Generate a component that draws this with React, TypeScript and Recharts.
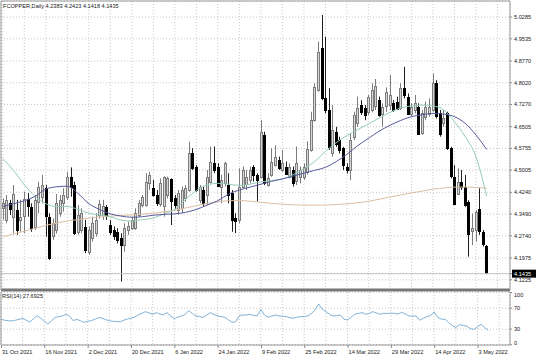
import React from 'react';
import { ComposedChart, Bar, Line, XAxis, YAxis, CartesianGrid, ReferenceLine } from 'recharts';

const opens = [
  4.369, 4.329, 4.386, 4.340, 4.363, 4.329, 4.340, 4.400, 4.372, 4.306,
  4.392, 4.409, 4.438, 4.340, 4.271, 4.294, 4.354, 4.386, 4.407, 4.478,
  4.449, 4.288, 4.294, 4.306, 4.219, 4.265, 4.283, 4.346, 4.346, 4.372,
  4.311, 4.294, 4.288, 4.265, 4.242, 4.294, 4.300, 4.300, 4.346, 4.380,
  4.380, 4.455, 4.438, 4.415, 4.386, 4.377, 4.415, 4.469, 4.403, 4.363,
  4.369, 4.403, 4.432, 4.558, 4.513, 4.398, 4.432, 4.415, 4.461, 4.526,
  4.513, 4.444, 4.455, 4.449, 4.421, 4.334, 4.329, 4.444, 4.455, 4.467,
  4.513, 4.484, 4.478, 4.622, 4.449, 4.484, 4.518, 4.536, 4.501, 4.513,
  4.478, 4.501, 4.461, 4.478, 4.478, 4.495, 4.570, 4.673, 4.777, 4.921,
  4.748, 4.708, 4.558, 4.633, 4.604, 4.576, 4.512, 4.501, 4.616, 4.662,
  4.725, 4.714, 4.702, 4.708, 4.720, 4.742, 4.696, 4.720, 4.725, 4.731,
  4.737, 4.714, 4.783, 4.754, 4.696, 4.708, 4.719, 4.627, 4.685, 4.696,
  4.708, 4.800, 4.696, 4.662, 4.696, 4.576, 4.478, 4.420, 4.461, 4.443,
  4.392, 4.288, 4.294, 4.365, 4.288, 4.2383,
];
const highs = [
  4.403, 4.415, 4.398, 4.449, 4.398, 4.398, 4.426, 4.421, 4.386, 4.415,
  4.461, 4.484, 4.449, 4.352, 4.334, 4.418, 4.415, 4.438, 4.495, 4.510,
  4.461, 4.380, 4.369, 4.329, 4.306, 4.340, 4.352, 4.398, 4.398, 4.380,
  4.329, 4.306, 4.300, 4.283, 4.317, 4.323, 4.340, 4.369, 4.398, 4.415,
  4.490, 4.495, 4.467, 4.432, 4.472, 4.480, 4.478, 4.472, 4.415, 4.432,
  4.444, 4.449, 4.599, 4.576, 4.518, 4.449, 4.444, 4.501, 4.582, 4.582,
  4.524, 4.484, 4.530, 4.490, 4.432, 4.352, 4.507, 4.513, 4.501, 4.513,
  4.518, 4.490, 4.673, 4.633, 4.490, 4.576, 4.587, 4.547, 4.570, 4.530,
  4.524, 4.513, 4.582, 4.513, 4.524, 4.600, 4.702, 4.800, 4.944, 5.036,
  4.961, 4.783, 4.725, 4.650, 4.616, 4.581, 4.524, 4.628, 4.702, 4.754,
  4.742, 4.725, 4.760, 4.800, 4.815, 4.754, 4.731, 4.786, 4.829, 4.742,
  4.754, 4.800, 4.857, 4.765, 4.731, 4.760, 4.731, 4.708, 4.737, 4.748,
  4.834, 4.811, 4.708, 4.708, 4.702, 4.581, 4.518, 4.507, 4.501, 4.484,
  4.397, 4.351, 4.363, 4.438, 4.294, 4.2423,
];
const lows = [
  4.329, 4.317, 4.346, 4.282, 4.277, 4.288, 4.282, 4.340, 4.288, 4.294,
  4.352, 4.386, 4.271, 4.191, 4.260, 4.282, 4.340, 4.357, 4.398, 4.409,
  4.277, 4.277, 4.283, 4.214, 4.208, 4.254, 4.271, 4.334, 4.329, 4.329,
  4.277, 4.260, 4.248, 4.116, 4.219, 4.277, 4.294, 4.294, 4.340, 4.372,
  4.375, 4.432, 4.409, 4.377, 4.375, 4.340, 4.403, 4.311, 4.365, 4.346,
  4.352, 4.392, 4.426, 4.501, 4.426, 4.386, 4.375, 4.380, 4.455, 4.490,
  4.444, 4.386, 4.444, 4.386, 4.288, 4.283, 4.317, 4.438, 4.432, 4.455,
  4.461, 4.392, 4.472, 4.449, 4.444, 4.478, 4.513, 4.501, 4.495, 4.484,
  4.472, 4.444, 4.449, 4.455, 4.467, 4.485, 4.564, 4.668, 4.771, 4.742,
  4.696, 4.570, 4.547, 4.581, 4.558, 4.501, 4.489, 4.466, 4.604, 4.650,
  4.691, 4.673, 4.691, 4.700, 4.708, 4.685, 4.650, 4.702, 4.708, 4.702,
  4.708, 4.708, 4.748, 4.691, 4.685, 4.696, 4.622, 4.622, 4.673, 4.685,
  4.702, 4.679, 4.616, 4.650, 4.570, 4.472, 4.380, 4.415, 4.432, 4.374,
  4.202, 4.242, 4.254, 4.277, 4.237, 4.1418,
];
const closes = [
  4.386, 4.398, 4.365, 4.418, 4.294, 4.340, 4.400, 4.375, 4.300, 4.398,
  4.444, 4.449, 4.340, 4.200, 4.317, 4.386, 4.398, 4.415, 4.476, 4.444,
  4.283, 4.346, 4.352, 4.225, 4.294, 4.317, 4.329, 4.384, 4.377, 4.340,
  4.288, 4.273, 4.260, 4.242, 4.300, 4.308, 4.329, 4.352, 4.386, 4.407,
  4.461, 4.484, 4.415, 4.386, 4.457, 4.476, 4.472, 4.392, 4.380, 4.421,
  4.432, 4.438, 4.558, 4.507, 4.432, 4.444, 4.386, 4.478, 4.530, 4.501,
  4.449, 4.467, 4.524, 4.415, 4.329, 4.323, 4.444, 4.501, 4.478, 4.501,
  4.484, 4.467, 4.633, 4.455, 4.472, 4.530, 4.547, 4.507, 4.524, 4.490,
  4.513, 4.455, 4.524, 4.501, 4.513, 4.575, 4.673, 4.788, 4.909, 4.748,
  4.708, 4.581, 4.639, 4.593, 4.570, 4.518, 4.501, 4.604, 4.691, 4.714,
  4.702, 4.691, 4.754, 4.777, 4.790, 4.691, 4.720, 4.770, 4.760, 4.708,
  4.714, 4.783, 4.760, 4.696, 4.719, 4.731, 4.627, 4.696, 4.719, 4.719,
  4.800, 4.685, 4.622, 4.679, 4.576, 4.478, 4.386, 4.461, 4.443, 4.380,
  4.282, 4.300, 4.357, 4.288, 4.248, 4.1435,
];

const rsi14 = [
  48.8, 47.0, 46.2, 45.6, 47.0, 48.8, 50.7, 47.0, 43.7, 50.0,
  55.8, 50.7, 45.0, 39.8, 46.0, 52.6, 54.0, 55.2, 58.4, 55.0,
  46.2, 48.8, 46.0, 43.0, 45.0, 46.2, 49.0, 52.0, 51.0, 48.0,
  46.2, 45.0, 44.5, 44.3, 47.0, 49.4, 51.0, 53.0, 57.1, 60.0,
  63.5, 61.0, 58.4, 61.6, 59.0, 57.7, 61.6, 55.0, 50.1, 53.0,
  55.2, 58.0, 65.4, 60.0, 55.2, 54.0, 52.6, 57.0, 61.6, 58.0,
  55.2, 54.0, 52.6, 48.0, 43.0, 44.0, 55.8, 57.0, 57.0, 58.4,
  56.0, 55.2, 67.9, 57.0, 52.6, 55.0, 57.1, 55.2, 55.0, 53.9,
  52.0, 50.7, 53.0, 53.9, 54.0, 55.2, 60.0, 66.7, 78.2, 68.0,
  63.5, 58.4, 55.2, 56.0, 57.1, 48.8, 47.5, 53.0, 58.4, 60.0,
  61.6, 58.4, 60.0, 63.5, 61.0, 58.4, 60.3, 60.0, 60.5, 60.3,
  59.0, 62.2, 59.0, 55.2, 55.0, 55.2, 46.9, 51.0, 53.9, 56.0,
  62.8, 52.6, 49.0, 49.0, 42.4, 37.0, 32.8, 38.6, 37.0, 36.0,
  31.0, 29.6, 34.7, 39.2, 32.8, 27.7,
];

// moving averages sampled every MA_STEP bars
const MA_STEP = 3;
const maFast = [
  4.540, 4.500, 4.450, 4.410, 4.385, 4.375, 4.375, 4.365, 4.352, 4.346,
  4.340, 4.328, 4.325, 4.330, 4.335, 4.350, 4.365, 4.400, 4.430, 4.450,
  4.455, 4.452, 4.448, 4.452, 4.460, 4.465, 4.470, 4.485, 4.505, 4.530,
  4.565, 4.595, 4.620, 4.640, 4.660, 4.680, 4.700, 4.715, 4.722, 4.725,
  4.722, 4.708, 4.668, 4.616, 4.547, 4.410,
];
const maMid = [
  4.375, 4.385, 4.395, 4.410, 4.435, 4.443, 4.445, 4.420, 4.385, 4.365,
  4.350, 4.342, 4.338, 4.340, 4.345, 4.348, 4.350, 4.355, 4.365, 4.380,
  4.395, 4.418, 4.432, 4.442, 4.452, 4.462, 4.470, 4.480, 4.490, 4.500,
  4.510, 4.530, 4.555, 4.585, 4.610, 4.635, 4.655, 4.672, 4.685, 4.692,
  4.696, 4.694, 4.685, 4.662, 4.622, 4.572,
];
const maSlow = [
  4.271, 4.280, 4.290, 4.300, 4.310, 4.318, 4.325, 4.330, 4.335, 4.339,
  4.342, 4.344, 4.346, 4.349, 4.352, 4.357, 4.362, 4.370, 4.378, 4.386,
  4.392, 4.395, 4.396, 4.393, 4.390, 4.386, 4.383, 4.381, 4.380, 4.380,
  4.380, 4.382, 4.384, 4.388, 4.393, 4.400, 4.408, 4.415, 4.422, 4.428,
  4.435, 4.439, 4.442, 4.442, 4.441, 4.438,
];

const dateLabels = [
  '31 Oct 2021', '16 Nov 2021', '2 Dec 2021', '20 Dec 2021', '6 Jan 2022', '24 Jan 2022',
  '9 Feb 2022', '25 Feb 2022', '14 Mar 2022', '29 Mar 2022', '14 Apr 2022', '3 May 2022',
];
const LABEL_EVERY = 12;
const GRID_EVERY = 6;
const PAD_BARS = 6;
const LAST_PRICE = 4.1435;
const priceTicks = [5.0285, 4.9535, 4.877, 4.802, 4.727, 4.6505, 4.5755, 4.5005, 4.424, 4.349, 4.274, 4.1975, LAST_PRICE, 4.1225];
const rsiTicks = [0, 30, 70, 100];
const TITLE = 'FCOPPER,Daily  4.2383 4.2423 4.1418 4.1435';
const RSI_TITLE = 'RSI(14) 27.6925';

const N = opens.length + PAD_BARS;
const rows = Array.from({ length: N }, (_, i) => {
  if (i >= opens.length) return { i };
  const onStep = i % MA_STEP === 0;
  return {
    i,
    open: opens[i],
    high: highs[i],
    low: lows[i],
    close: closes[i],
    range: [lows[i], highs[i]],
    fast: onStep ? maFast[i / MA_STEP] : null,
    mid: onStep ? maMid[i / MA_STEP] : null,
    slow: onStep ? maSlow[i / MA_STEP] : null,
    rsi: rsi14[i],
  };
});
const gridTicks = rows.filter((r) => r.i % GRID_EVERY === 0).map((r) => r.i);

const FONT = '"Liberation Sans", Arial, sans-serif';
const FS = 5.6;
const TXT = '#1a1a1a';

const Candle = (props: any) => {
  const { x, y, width, height, payload } = props;
  if (!payload || payload.open == null) return null;
  const { open, close, high, low } = payload;
  const top = Math.min(y, y + height);
  const h = Math.abs(height);
  const ratio = high - low > 0 ? h / (high - low) : 0;
  const yO = top + (high - open) * ratio;
  const yC = top + (high - close) * ratio;
  const bull = close >= open;
  const c = Math.round(x + width / 2);
  const bTop = Math.round(Math.min(yO, yC)) + 0.5;
  const bH = Math.max(1, Math.round(Math.abs(yC - yO)));
  return (
    <g>
      <line x1={c + 0.5} x2={c + 0.5} y1={top} y2={top + h} stroke={bull ? '#7c7c7c' : '#1e1e1e'} strokeWidth={1} />
      <rect x={c - 0.5} y={bTop} width={2} height={bH} fill={bull ? '#d6d6d6' : '#000000'} stroke={bull ? '#7c7c7c' : '#000000'} strokeWidth={1} />
    </g>
  );
};

const PriceTick = (props: any) => {
  const { x, y, payload } = props;
  const v = payload.value;
  const label = Number(v).toFixed(4);
  if (v === LAST_PRICE) {
    return (
      <g>
        <rect x={x - 2} y={y - 4} width={25} height={8} fill="#000" />
        <text x={x} y={y + 2} fill="#fff" fontSize={FS} fontFamily={FONT}>{label}</text>
      </g>
    );
  }
  return <text x={x} y={y + 2} fill={TXT} fontSize={FS} fontFamily={FONT}>{label}</text>;
};

const RsiTick = (props: any) => {
  const { x, y, payload } = props;
  const v = payload.value;
  const dy = v === 100 ? 4 : v === 0 ? 0 : 2;
  return <text x={x} y={y + dy} fill={TXT} fontSize={FS} fontFamily={FONT}>{v}</text>;
};

const DateTick = (props: any) => {
  const { x, y, payload } = props;
  const i = payload.value;
  if (i % LABEL_EVERY !== 0) return <g />;
  const label = dateLabels[i / LABEL_EVERY];
  if (!label) return <g />;
  return (
    <g>
      <line x1={x + 0.5} x2={x + 0.5} y1={y} y2={y + 3} stroke="#888" />
      <text x={x + 1} y={y + 9} fill={TXT} fontSize={FS} fontFamily={FONT}>{label}</text>
    </g>
  );
};

const EmptyTick = () => <g />;

export default function App() {
  return (
    <div style={{ position: 'absolute', left: 0, top: 0, width: 536, height: 357, background: '#fff' }}>
      <ComposedChart width={536} height={292} data={rows} margin={{ top: 0, right: 0, bottom: 0, left: 0 }} barCategoryGap={0}>
        <CartesianGrid stroke="#c8c8c8" strokeDasharray="1 2" />
        <XAxis dataKey="i" type="category" ticks={gridTicks} height={2} tick={<EmptyTick />} tickLine={false} axisLine={{ stroke: '#777', strokeWidth: 3 }} interval={0} />
        <XAxis xAxisId="top" dataKey="i" orientation="top" height={1} tick={false} tickLine={false} axisLine={{ stroke: '#999' }} />
        <YAxis yAxisId="left" orientation="left" width={1} tick={false} tickLine={false} axisLine={{ stroke: '#999' }} domain={[4.0871, 5.084]} />
        <YAxis
          orientation="right"
          width={26}
          domain={[4.0871, 5.084]}
          allowDataOverflow
          ticks={priceTicks}
          interval={0}
          tick={<PriceTick />}
          tickSize={2}
          tickMargin={2}
          tickLine={{ stroke: '#888' }}
          axisLine={{ stroke: '#999' }}
        />
        <ReferenceLine y={LAST_PRICE} stroke="#c4c4c4" />
        <Line dataKey="slow" type="monotone" stroke="#dcbea2" strokeWidth={1} dot={false} connectNulls isAnimationActive={false} />
        <Line dataKey="fast" type="monotone" stroke="#93ccb6" strokeWidth={1} dot={false} connectNulls isAnimationActive={false} />
        <Line dataKey="mid" type="monotone" stroke="#575a9c" strokeWidth={1} dot={false} connectNulls isAnimationActive={false} />
        <Bar dataKey="range" barSize={3} shape={(p: any) => <Candle {...p} />} isAnimationActive={false} />
      </ComposedChart>
      <ComposedChart width={536} height={65} data={rows} margin={{ top: 0, right: 0, bottom: 0, left: 0 }}>
        <CartesianGrid stroke="#c8c8c8" strokeDasharray="1 2" />
        <XAxis dataKey="i" type="category" ticks={gridTicks} interval={0} height={12} tick={<DateTick />} tickSize={0} tickMargin={0} tickLine={false} axisLine={{ stroke: '#999' }} />
        <YAxis yAxisId="left" orientation="left" width={1} tick={false} tickLine={false} axisLine={{ stroke: '#999' }} domain={[-0.4, 101.1]} />
        <YAxis
          orientation="right"
          width={26}
          domain={[-0.4, 101.1]}
          allowDataOverflow
          ticks={rsiTicks}
          interval={0}
          tick={<RsiTick />}
          tickSize={2}
          tickMargin={2}
          tickLine={{ stroke: '#888' }}
          axisLine={{ stroke: '#999' }}
        />
        <Line dataKey="rsi" type="linear" stroke="#7fb1d6" strokeWidth={1} dot={false} isAnimationActive={false} />
      </ComposedChart>
      <svg width={536} height={357} style={{ position: 'absolute', left: 0, top: 0, pointerEvents: 'none' }}>
        <text x={3} y={8} fill={TXT} fontSize={FS} fontFamily={FONT}>{TITLE}</text>
        <text x={2} y={298} fill={TXT} fontSize={FS} fontFamily={FONT}>{RSI_TITLE}</text>
      </svg>
    </div>
  );
}
